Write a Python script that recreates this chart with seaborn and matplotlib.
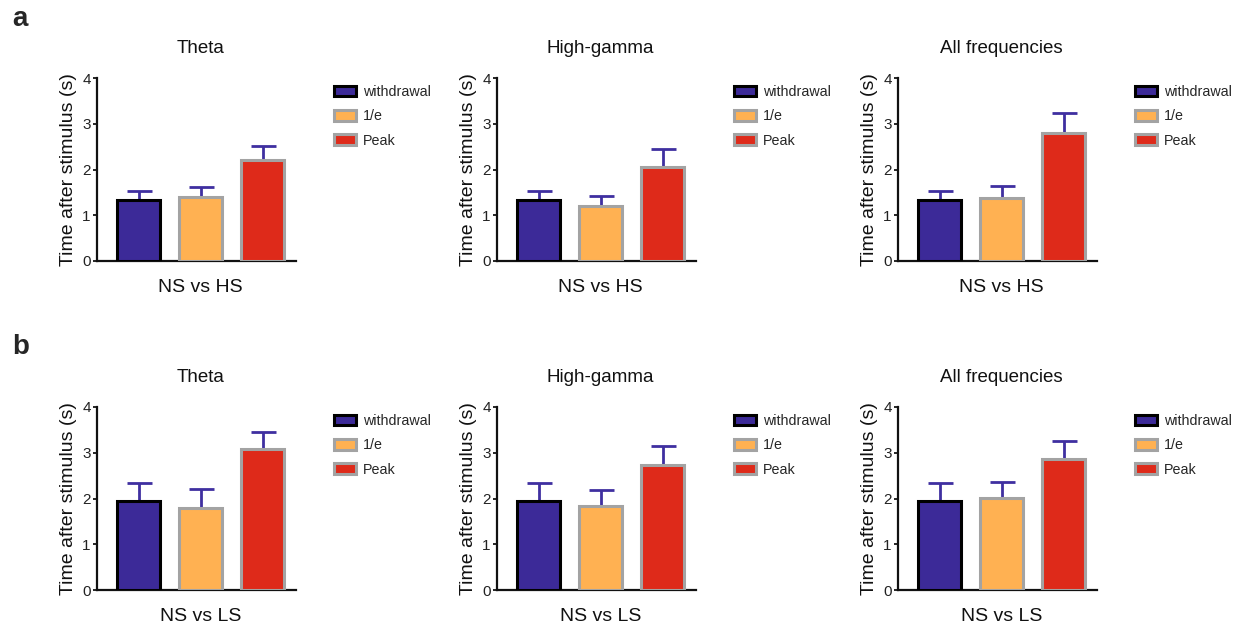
import numpy as np
import pandas as pd
import matplotlib
matplotlib.use("Agg")
import matplotlib.pyplot as plt
from matplotlib.patches import Patch
import seaborn as sns

sns.set_style("ticks")
plt.rcParams['font.family'] = ['Liberation Sans', 'DejaVu Sans']

measures = ["withdrawal", "1/e", "Peak"]
bands = ["Theta", "High-gamma", "All frequencies"]

# row a: NS vs HS
a_means = {"Theta": [1.33, 1.40, 2.21],
           "High-gamma": [1.33, 1.20, 2.06],
           "All frequencies": [1.33, 1.37, 2.79]}
a_tops = {"Theta": [1.53, 1.62, 2.51],
          "High-gamma": [1.53, 1.41, 2.45],
          "All frequencies": [1.53, 1.64, 3.23]}
# row b: NS vs LS
b_means = {"Theta": [1.95, 1.80, 3.09],
           "High-gamma": [1.95, 1.84, 2.73],
           "All frequencies": [1.95, 2.01, 2.86]}
b_tops = {"Theta": [2.34, 2.21, 3.45],
          "High-gamma": [2.34, 2.19, 3.14],
          "All frequencies": [2.34, 2.36, 3.26]}

xlabels = ["NS vs HS", "NS vs LS"]
yticks = [0, 1, 2, 3, 4]
ylabel = "Time after stimulus (s)"

fills = ["#3c2a98", "#ffb152", "#de2a1a"]
edges = ["#000000", "#a3a3a3", "#a3a3a3"]
errc = "#3f2fa0"

W, H = 1245, 625
fig = plt.figure(figsize=(W / 100, H / 100), dpi=100)

lefts = [97, 497, 898]
axw = 199
rows = [(78, 261), (407, 590)]
cx = 0.52  # text centred over the bars

for r, (means, tops) in enumerate([(a_means, a_tops), (b_means, b_tops)]):
    ytop, ybot = rows[r]
    axh = ybot - ytop
    for c, band in enumerate(bands):
        ax = fig.add_axes([lefts[c] / W, 1 - ybot / H, axw / W, axh / H])
        df = pd.DataFrame({"measure": measures, "value": means[band]})
        sns.barplot(data=df, x="measure", y="value", hue="measure", order=measures,
                    hue_order=measures, palette=fills, legend=False, width=0.69,
                    errorbar=None, ax=ax, linewidth=2.2, saturation=1)
        for p, e in zip(ax.patches, edges):
            p.set_edgecolor(e)
            p.set_linewidth(2.2)
            p.set_zorder(3)
        vals = np.array(means[band])
        err = np.array(tops[band]) - vals
        ax.errorbar(np.arange(3), vals, yerr=[np.zeros(3), err], fmt="none",
                    ecolor=errc, elinewidth=2, capsize=9, capthick=2, zorder=2)
        ax.set_ylim(0, 4)
        ax.set_xlim(-0.67, 2.54)
        ax.set_yticks(yticks)
        ax.set_yticklabels([str(t) for t in yticks], fontsize=11, color="#222222")
        ax.set_xticks([])
        ax.set_xlabel(xlabels[r], fontsize=14, labelpad=13, color="#111111", x=cx)
        ax.set_ylabel(ylabel, fontsize=14, labelpad=4, color="#111111")
        ax.set_title(band, fontsize=13.5, pad=18, color="#111111", x=cx)
        for s in ["top", "right"]:
            ax.spines[s].set_visible(False)
        for s in ["left", "bottom"]:
            ax.spines[s].set_linewidth(1.6)
            ax.spines[s].set_color("#111111")
        ax.tick_params(axis="y", length=3, width=1.4, pad=1.5)
        handles = [Patch(facecolor=f, edgecolor=e, linewidth=2.2, label=m)
                   for f, e, m in zip(fills, edges, measures)]
        ax.legend(handles=handles, loc="upper left",
                  bbox_to_anchor=(237 / axw, (axh - 7) / axh),
                  borderaxespad=0, borderpad=0,
                  frameon=False, fontsize=10.3, handlelength=1.55, handleheight=0.75,
                  labelspacing=0.72, handletextpad=0.45)

fig.text(12 / W, 1 - 19 / H, "a", fontsize=20, fontweight="bold", va="center", ha="left")
fig.text(12 / W, 1 - 347 / H, "b", fontsize=20, fontweight="bold", va="center", ha="left")

fig.savefig("out.png", dpi=100)
